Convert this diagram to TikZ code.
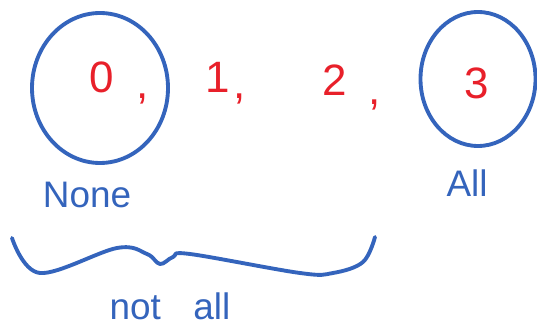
\documentclass[tikz,border=0pt]{standalone}
\usepackage{fontspec}
\setmainfont{Liberation Sans}
\definecolor{penblue}{HTML}{3464BC}
\definecolor{penred}{HTML}{E8202A}
\tikzset{
  ring/.style={draw=penblue,line width=2.2pt},
  num/.style={text=penred,font=\fontsize{25}{30}\selectfont,inner sep=0pt},
  word/.style={text=penblue,font=\fontsize{21}{25}\selectfont,inner sep=0pt},
  bracel/.style={draw=penblue,line width=2.2pt,line cap=round,line join=round},
}

\begin{document}
\begin{tikzpicture}
\useasboundingbox (0,0) rectangle (10.74,6.58);
  % the counts
  \node[num] (zero) at (2.04,5.04) {0};
  \node[num] (c0) at (2.86,4.60) {,};
  \node[num] (one) at (4.36,5.04) {1};
  \node[num] (c1) at (4.80,4.60) {,};
  \node[num] (two) at (6.70,4.98) {2};
  \node[num] (c2) at (7.50,4.48) {,};
  \node[num] (three) at (9.54,4.92) {3};
  % rings
  \draw[ring] (2.0,4.82) ellipse (1.36 and 1.5);
  \draw[ring] (9.56,5.0) ellipse (1.15 and 1.34);
  % labels
  \node[word] (none) at (1.74,2.68) {None};
  \node[word] (all) at (9.34,2.92) {All};
  \draw[bracel] plot[smooth,tension=0.6] coordinates {
    (0.24,1.82) (0.8,1.12) (2.34,1.62) (2.94,1.5) (3.2,1.30)
    (3.46,1.44) (3.8,1.5) (6.0,1.12) (6.66,1.12) (7.26,1.34) (7.5,1.84)};
  \node[word] (notall) at (3.4,0.46) {not\hspace{0.6em} all};
\end{tikzpicture}
\end{document}
